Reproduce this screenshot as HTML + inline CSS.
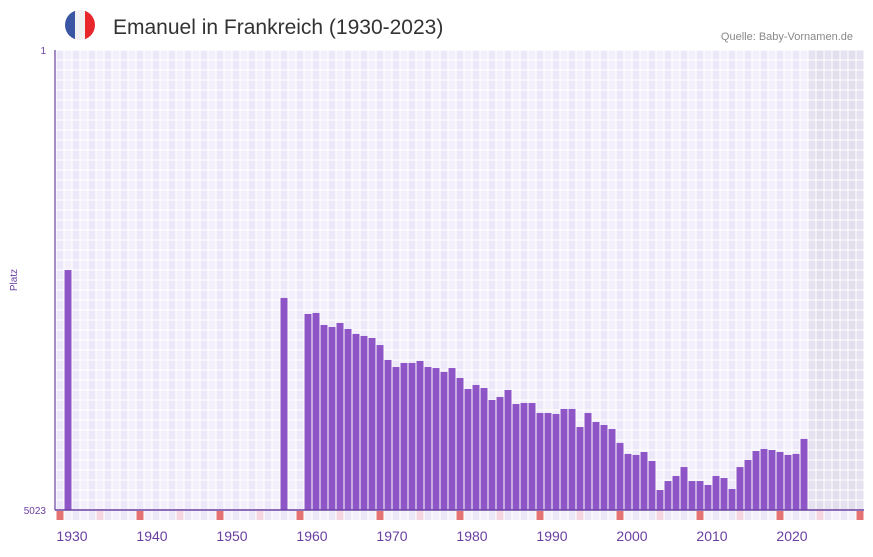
<!DOCTYPE html>
<html><head><meta charset="utf-8">
<style>
body{margin:0;background:#fff;font-family:"Liberation Sans",sans-serif;}
svg text{font-family:"Liberation Sans",sans-serif;}
</style></head>
<body>
<svg id="chart" width="873" height="552" xmlns="http://www.w3.org/2000/svg">
  <g>
    <clipPath id="fc"><circle cx="80" cy="25" r="15"/></clipPath>
    <g clip-path="url(#fc)">
      <rect x="65" y="10" width="10" height="30" fill="#3a55a4"/>
      <rect x="75" y="10" width="10" height="30" fill="#f1f1f4"/>
      <rect x="85" y="10" width="10" height="30" fill="#e8262c"/>
    </g>
  </g>
  <text x="113" y="34" font-size="21" fill="#333">Emanuel in Frankreich (1930-2023)</text>
  <text x="853" y="40" font-size="11" fill="#888" text-anchor="end">Quelle: Baby-Vornamen.de</text>
  <g id="grid"></g>
  <g id="bars"></g>
  <g id="axes"></g>
</svg>
<script>
const startYear = 1929;
const endYear = 2029;
const dataYears = [1930, 1957, 1960,1961,1962,1963,1964,1965,1966,1967,1968,1969,1970,1971,1972,1973,1974,1975,1976,1977,1978,1979,1980,1981,1982,1983,1984,1985,1986,1987,1988,1989,1990,1991,1992,1993,1994,1995,1996,1997,1998,1999,2000,2001,2002,2003,2004,2005,2006,2007,2008,2009,2010,2011,2012,2013,2014,2015,2016,2017,2018,2019,2020,2021,2022];
const ranks = [2403, 2708, 2883,2872,3003,3025,2981,3047,3101,3123,3145,3222,3385,3462,3418,3418,3396,3462,3473,3516,3473,3582,3702,3658,3691,3822,3789,3713,3866,3855,3855,3964,3964,3975,3920,3920,4117,3964,4062,4095,4139,4291,4411,4422,4390,4488,4805,4707,4652,4554,4707,4707,4750,4652,4674,4794,4554,4477,4379,4357,4368,4390,4422,4411,4247];
const tickYears = [1930,1940,1950,1960,1970,1980,1990,2000,2010,2020];
const rankMin = 1, rankMax = 5023;
const lastDataYear = 2022;

const NS = "http://www.w3.org/2000/svg";
const L = 56, T = 50, B = 510, CW = 8;
function xs(y){ return L + (y - startYear) * CW; }
function ys(r){ return T + (r - rankMin) / (rankMax - rankMin) * (B - T); }
function mk(tag, attrs, parent){ const e = document.createElementNS(NS, tag); for (const k in attrs) e.setAttribute(k, attrs[k]); parent.appendChild(e); return e; }

const grid = document.getElementById('grid');
for (let y = startYear; y <= endYear; y++) {
  const i = y - startYear;
  const future = y > lastDataYear;
  const c = future ? (i % 2 ? '#e2deec' : '#e6e2ef') : (i % 2 ? '#f3f0fb' : '#ede8f8');
  const col = mk('rect', {x: xs(y), y: T, width: CW, height: B - T, fill: c}, grid);
  
  
  let mc = (i % 2 ? '#f3f0fb' : '#ede8f8');
  if (i % 10 === 0) mc = '#e57373'; else if (i % 5 === 0) mc = '#f5d5e0';
  const m = mk('rect', {x: xs(y) + 0.5, y: B + 1, width: CW - 1, height: 9, fill: mc}, grid);
  
  
}
for (let x = L; x <= L + CW * (endYear - startYear + 1); x += CW) {
  mk('line', {x1: x, y1: T, x2: x, y2: B, stroke: '#fff', 'stroke-width': 1}, grid);
}
for (let y = T; y <= B; y += 10) {
  mk('line', {x1: L, y1: y, x2: L + CW * (endYear - startYear + 1), y2: y, stroke: '#fff', 'stroke-width': 1}, grid);
}

const bars = document.getElementById('bars');
dataYears.forEach((yr, i) => {
  const top = ys(ranks[i]);
  const b = mk('rect', {x: xs(yr) + 0.5, y: top, width: CW - 1, height: B - top, fill: '#8e55c6'}, bars);
  
  
});

const axes = document.getElementById('axes');
const xa = mk('line', {x1: L - 1, y1: B, x2: L + CW * (endYear - startYear + 1), y2: B, stroke: '#6a3fa0', 'stroke-width': 1.5}, axes);


const ya = mk('line', {x1: L - 1, y1: T, x2: L - 1, y2: B, stroke: '#6a3fa0', 'stroke-width': 1.2}, axes);


tickYears.forEach(yr => {
  const t = mk('text', {x: xs(yr) + 8, y: 541, 'font-size': 14, fill: '#6a3fa0', 'text-anchor': 'middle'}, axes);
  t.textContent = yr;
  
  
});
[rankMin, rankMax].forEach(r => {
  const t = mk('text', {x: 46, y: ys(r) + 4, 'font-size': 10, fill: '#6a3fa0', 'text-anchor': 'end'}, axes);
  t.textContent = r;
  
  
});
const yt = mk('text', {x: 17, y: 280, 'font-size': 10, fill: '#6a3fa0', 'text-anchor': 'middle', transform: 'rotate(-90 17 280)'}, axes);
yt.textContent = 'Platz';


</script>
</body></html>
